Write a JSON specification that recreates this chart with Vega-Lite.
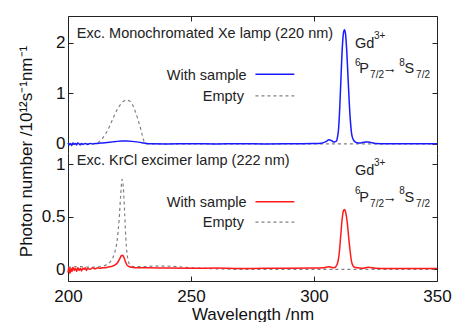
{
  "$schema": "https://vega.github.io/schema/vega-lite/v6.json",
  "padding": {"left": 16, "top": 15, "right": 20, "bottom": 0},
  "spacing": 0,
  "bounds": "flush",
  "config": {
    "view": {"stroke": null},
    "font": "Liberation Sans",
    "axis": {
      "grid": false,
      "domainColor": "#222",
      "tickColor": "#222",
      "domainWidth": 1,
      "tickWidth": 1,
      "tickSize": -5,
      "labelFlush": false,
      "labelFontSize": 17,
      "labelColor": "#111",
      "labelFont": "Liberation Sans",
      "titleFont": "Liberation Sans",
      "titleFontSize": 17,
      "titleFontWeight": "normal",
      "titleColor": "#111"
    },
    "text": {"font": "Liberation Sans", "color": "#222"}
  },
  "datasets": {
    "top": [
      {"wl": 200, "v": 0.02, "s": "Sample"}, {"wl": 200.5, "v": -0.02, "s": "Sample"}, {"wl": 201, "v": 0.01, "s": "Sample"}, {"wl": 201.5, "v": -0.03, "s": "Sample"},
      {"wl": 202, "v": 0.02, "s": "Sample"}, {"wl": 202.5, "v": -0.01, "s": "Sample"}, {"wl": 203, "v": 0.01, "s": "Sample"}, {"wl": 203.5, "v": -0.02, "s": "Sample"},
      {"wl": 204, "v": 0.02, "s": "Sample"}, {"wl": 204.5, "v": 0.0, "s": "Sample"}, {"wl": 205, "v": -0.02, "s": "Sample"}, {"wl": 205.5, "v": 0.01, "s": "Sample"},
      {"wl": 206, "v": -0.01, "s": "Sample"}, {"wl": 207, "v": 0.01, "s": "Sample"}, {"wl": 208, "v": -0.01, "s": "Sample"}, {"wl": 209, "v": 0.01, "s": "Sample"},
      {"wl": 210, "v": 0.0, "s": "Sample"}, {"wl": 211, "v": 0.01, "s": "Sample"}, {"wl": 212, "v": 0.01, "s": "Sample"}, {"wl": 214, "v": 0.02, "s": "Sample"},
      {"wl": 216, "v": 0.03, "s": "Sample"}, {"wl": 218, "v": 0.04, "s": "Sample"}, {"wl": 220, "v": 0.05, "s": "Sample"}, {"wl": 222, "v": 0.055, "s": "Sample"},
      {"wl": 224, "v": 0.055, "s": "Sample"}, {"wl": 226, "v": 0.05, "s": "Sample"}, {"wl": 228, "v": 0.04, "s": "Sample"}, {"wl": 230, "v": 0.025, "s": "Sample"},
      {"wl": 232, "v": 0.01, "s": "Sample"}, {"wl": 234, "v": 0.003, "s": "Sample"}, {"wl": 240, "v": 0.0, "s": "Sample"}, {"wl": 250, "v": 0.002, "s": "Sample"},
      {"wl": 260, "v": 0.0, "s": "Sample"}, {"wl": 270, "v": 0.002, "s": "Sample"}, {"wl": 280, "v": 0.0, "s": "Sample"}, {"wl": 290, "v": 0.003, "s": "Sample"},
      {"wl": 300, "v": 0.008, "s": "Sample"}, {"wl": 303, "v": 0.015, "s": "Sample"}, {"wl": 305, "v": 0.05, "s": "Sample"}, {"wl": 306, "v": 0.08, "s": "Sample"},
      {"wl": 307, "v": 0.07, "s": "Sample"}, {"wl": 308, "v": 0.04, "s": "Sample"}, {"wl": 309, "v": 0.05, "s": "Sample"}, {"wl": 309.5, "v": 0.12, "s": "Sample"},
      {"wl": 310, "v": 0.3, "s": "Sample"}, {"wl": 310.5, "v": 0.75, "s": "Sample"}, {"wl": 311, "v": 1.35, "s": "Sample"}, {"wl": 311.5, "v": 1.9, "s": "Sample"},
      {"wl": 312, "v": 2.2, "s": "Sample"}, {"wl": 312.4, "v": 2.26, "s": "Sample"}, {"wl": 312.8, "v": 2.18, "s": "Sample"}, {"wl": 313.3, "v": 1.85, "s": "Sample"},
      {"wl": 313.8, "v": 1.35, "s": "Sample"}, {"wl": 314.3, "v": 0.85, "s": "Sample"}, {"wl": 314.8, "v": 0.45, "s": "Sample"}, {"wl": 315.3, "v": 0.2, "s": "Sample"},
      {"wl": 316, "v": 0.08, "s": "Sample"}, {"wl": 317, "v": 0.03, "s": "Sample"}, {"wl": 318, "v": 0.02, "s": "Sample"}, {"wl": 319, "v": 0.02, "s": "Sample"},
      {"wl": 320, "v": 0.03, "s": "Sample"}, {"wl": 321, "v": 0.04, "s": "Sample"}, {"wl": 322, "v": 0.04, "s": "Sample"}, {"wl": 323, "v": 0.03, "s": "Sample"},
      {"wl": 325, "v": 0.01, "s": "Sample"}, {"wl": 330, "v": 0.005, "s": "Sample"}, {"wl": 340, "v": 0.003, "s": "Sample"}, {"wl": 350, "v": 0.003, "s": "Sample"},
      {"wl": 200, "v": 0.0, "s": "Empty"}, {"wl": 211, "v": 0.0, "s": "Empty"}, {"wl": 212, "v": 0.02, "s": "Empty"}, {"wl": 213, "v": 0.06, "s": "Empty"},
      {"wl": 214, "v": 0.11, "s": "Empty"}, {"wl": 215, "v": 0.18, "s": "Empty"}, {"wl": 216, "v": 0.26, "s": "Empty"}, {"wl": 217, "v": 0.36, "s": "Empty"},
      {"wl": 218, "v": 0.47, "s": "Empty"}, {"wl": 219, "v": 0.58, "s": "Empty"}, {"wl": 220.5, "v": 0.72, "s": "Empty"}, {"wl": 221.5, "v": 0.79, "s": "Empty"},
      {"wl": 222.5, "v": 0.84, "s": "Empty"}, {"wl": 223.8, "v": 0.865, "s": "Empty"}, {"wl": 224.8, "v": 0.855, "s": "Empty"}, {"wl": 225.6, "v": 0.82, "s": "Empty"},
      {"wl": 226.4, "v": 0.76, "s": "Empty"}, {"wl": 227.2, "v": 0.66, "s": "Empty"}, {"wl": 228.2, "v": 0.52, "s": "Empty"}, {"wl": 229.2, "v": 0.36, "s": "Empty"},
      {"wl": 230.2, "v": 0.17, "s": "Empty"}, {"wl": 231.2, "v": 0.02, "s": "Empty"}, {"wl": 232, "v": 0.0, "s": "Empty"}, {"wl": 350, "v": 0.0, "s": "Empty"}
    ],
    "bot": [
      {"wl": 200, "v": -0.03, "s": "Sample"}, {"wl": 200.4, "v": 0.02, "s": "Sample"}, {"wl": 200.8, "v": -0.04, "s": "Sample"}, {"wl": 201.2, "v": 0.01, "s": "Sample"},
      {"wl": 201.6, "v": -0.02, "s": "Sample"}, {"wl": 202, "v": 0.02, "s": "Sample"}, {"wl": 202.5, "v": -0.01, "s": "Sample"}, {"wl": 203, "v": 0.01, "s": "Sample"},
      {"wl": 203.5, "v": -0.02, "s": "Sample"}, {"wl": 204, "v": 0.015, "s": "Sample"}, {"wl": 204.5, "v": -0.01, "s": "Sample"}, {"wl": 205, "v": 0.01, "s": "Sample"},
      {"wl": 205.5, "v": -0.015, "s": "Sample"}, {"wl": 206, "v": 0.01, "s": "Sample"}, {"wl": 206.5, "v": 0.0, "s": "Sample"}, {"wl": 207, "v": 0.015, "s": "Sample"},
      {"wl": 207.5, "v": -0.01, "s": "Sample"}, {"wl": 208, "v": 0.01, "s": "Sample"}, {"wl": 209, "v": 0.0, "s": "Sample"}, {"wl": 210, "v": 0.015, "s": "Sample"},
      {"wl": 211, "v": 0.005, "s": "Sample"}, {"wl": 212, "v": 0.015, "s": "Sample"}, {"wl": 213, "v": 0.01, "s": "Sample"}, {"wl": 214, "v": 0.015, "s": "Sample"},
      {"wl": 215, "v": 0.015, "s": "Sample"}, {"wl": 216, "v": 0.02, "s": "Sample"}, {"wl": 217, "v": 0.025, "s": "Sample"}, {"wl": 218, "v": 0.03, "s": "Sample"},
      {"wl": 219, "v": 0.04, "s": "Sample"}, {"wl": 220, "v": 0.06, "s": "Sample"}, {"wl": 221, "v": 0.1, "s": "Sample"}, {"wl": 221.7, "v": 0.13, "s": "Sample"},
      {"wl": 222.2, "v": 0.135, "s": "Sample"}, {"wl": 222.8, "v": 0.11, "s": "Sample"}, {"wl": 223.4, "v": 0.07, "s": "Sample"}, {"wl": 224, "v": 0.04, "s": "Sample"},
      {"wl": 225, "v": 0.025, "s": "Sample"}, {"wl": 226, "v": 0.02, "s": "Sample"}, {"wl": 228, "v": 0.015, "s": "Sample"}, {"wl": 232, "v": 0.015, "s": "Sample"},
      {"wl": 240, "v": 0.012, "s": "Sample"}, {"wl": 250, "v": 0.01, "s": "Sample"}, {"wl": 260, "v": 0.012, "s": "Sample"}, {"wl": 270, "v": 0.008, "s": "Sample"},
      {"wl": 280, "v": 0.01, "s": "Sample"}, {"wl": 290, "v": 0.01, "s": "Sample"}, {"wl": 300, "v": 0.012, "s": "Sample"}, {"wl": 304, "v": 0.015, "s": "Sample"},
      {"wl": 306, "v": 0.025, "s": "Sample"}, {"wl": 307, "v": 0.02, "s": "Sample"}, {"wl": 308, "v": 0.015, "s": "Sample"}, {"wl": 309, "v": 0.03, "s": "Sample"},
      {"wl": 309.6, "v": 0.06, "s": "Sample"}, {"wl": 310.2, "v": 0.14, "s": "Sample"}, {"wl": 310.8, "v": 0.3, "s": "Sample"}, {"wl": 311.4, "v": 0.47, "s": "Sample"},
      {"wl": 312, "v": 0.56, "s": "Sample"}, {"wl": 312.4, "v": 0.57, "s": "Sample"}, {"wl": 312.9, "v": 0.54, "s": "Sample"}, {"wl": 313.5, "v": 0.45, "s": "Sample"},
      {"wl": 314, "v": 0.33, "s": "Sample"}, {"wl": 314.6, "v": 0.19, "s": "Sample"}, {"wl": 315.2, "v": 0.08, "s": "Sample"}, {"wl": 315.8, "v": 0.035, "s": "Sample"},
      {"wl": 316.5, "v": 0.02, "s": "Sample"}, {"wl": 318, "v": 0.015, "s": "Sample"}, {"wl": 320, "v": 0.01, "s": "Sample"}, {"wl": 322, "v": 0.02, "s": "Sample"},
      {"wl": 325, "v": 0.01, "s": "Sample"}, {"wl": 330, "v": 0.008, "s": "Sample"}, {"wl": 340, "v": 0.008, "s": "Sample"}, {"wl": 350, "v": 0.008, "s": "Sample"},
      {"wl": 200, "v": 0.02, "s": "Empty"}, {"wl": 205, "v": 0.025, "s": "Empty"}, {"wl": 210, "v": 0.02, "s": "Empty"}, {"wl": 214, "v": 0.03, "s": "Empty"},
      {"wl": 216, "v": 0.05, "s": "Empty"}, {"wl": 218, "v": 0.1, "s": "Empty"}, {"wl": 219, "v": 0.16, "s": "Empty"}, {"wl": 220, "v": 0.28, "s": "Empty"},
      {"wl": 220.8, "v": 0.48, "s": "Empty"}, {"wl": 221.4, "v": 0.7, "s": "Empty"}, {"wl": 222, "v": 0.857, "s": "Empty"}, {"wl": 222.5, "v": 0.78, "s": "Empty"},
      {"wl": 223, "v": 0.55, "s": "Empty"}, {"wl": 223.5, "v": 0.3, "s": "Empty"}, {"wl": 224, "v": 0.15, "s": "Empty"}, {"wl": 224.6, "v": 0.07, "s": "Empty"},
      {"wl": 225.5, "v": 0.035, "s": "Empty"}, {"wl": 227, "v": 0.025, "s": "Empty"}, {"wl": 230, "v": 0.025, "s": "Empty"}, {"wl": 235, "v": 0.03, "s": "Empty"},
      {"wl": 240, "v": 0.03, "s": "Empty"}, {"wl": 245, "v": 0.025, "s": "Empty"}, {"wl": 250, "v": 0.015, "s": "Empty"}, {"wl": 255, "v": 0.01, "s": "Empty"},
      {"wl": 260, "v": 0.005, "s": "Empty"}, {"wl": 270, "v": 0.0, "s": "Empty"}, {"wl": 350, "v": 0.0, "s": "Empty"}
    ],
    "ann": [
      {"p": "top", "k": "main", "x": 203.6, "y": 2.18, "t": "Exc. Monochromated Xe lamp (220 nm)"},
      {"p": "top", "k": "main", "x": 316.7, "y": 1.974, "t": "Gd"},
      {"p": "top", "k": "main", "x": 318.4, "y": 1.479, "t": "P"},
      {"p": "top", "k": "main", "x": 327.8, "y": 1.479, "t": "→"},
      {"p": "top", "k": "main", "x": 336.8, "y": 1.479, "t": "S"},
      {"p": "top", "k": "small", "x": 324.4, "y": 2.14, "t": "3+"},
      {"p": "top", "k": "small", "x": 316.7, "y": 1.61, "t": "6"},
      {"p": "top", "k": "small", "x": 322.8, "y": 1.366, "t": "7/2"},
      {"p": "top", "k": "small", "x": 334.7, "y": 1.61, "t": "8"},
      {"p": "top", "k": "small", "x": 341.5, "y": 1.366, "t": "7/2"},
      {"p": "top", "k": "legend", "x": 272.6, "y": 1.347, "t": "With sample"},
      {"p": "top", "k": "legend", "x": 271.5, "y": 0.93, "t": "Empty"},
      {"p": "bot", "k": "main", "x": 203.6, "y": 1.031, "t": "Exc. KrCl excimer lamp (222 nm)"},
      {"p": "bot", "k": "main", "x": 316.7, "y": 0.936, "t": "Gd"},
      {"p": "bot", "k": "main", "x": 318.4, "y": 0.682, "t": "P"},
      {"p": "bot", "k": "main", "x": 327.8, "y": 0.682, "t": "→"},
      {"p": "bot", "k": "main", "x": 336.8, "y": 0.682, "t": "S"},
      {"p": "bot", "k": "small", "x": 324.4, "y": 1.015, "t": "3+"},
      {"p": "bot", "k": "small", "x": 316.7, "y": 0.75, "t": "6"},
      {"p": "bot", "k": "small", "x": 322.8, "y": 0.627, "t": "7/2"},
      {"p": "bot", "k": "small", "x": 334.7, "y": 0.75, "t": "8"},
      {"p": "bot", "k": "small", "x": 341.5, "y": 0.627, "t": "7/2"},
      {"p": "bot", "k": "legend", "x": 272.6, "y": 0.631, "t": "With sample"},
      {"p": "bot", "k": "legend", "x": 271.5, "y": 0.441, "t": "Empty"}
    ],
    "leg": [
      {"p": "top", "s": "Sample", "x": 276.2, "x2": 292.0, "y": 1.38},
      {"p": "top", "s": "Empty", "x": 276.2, "x2": 292.0, "y": 0.95},
      {"p": "bot", "s": "Sample", "x": 276.2, "x2": 292.0, "y": 0.644},
      {"p": "bot", "s": "Empty", "x": 276.2, "x2": 292.0, "y": 0.45}
    ]
  },
  "vconcat": [
    {
      "width": 369,
      "height": 137,
      "layer": [
        {
          "data": {"name": "top"},
          "transform": [{"filter": "datum.s === 'Empty'"}],
          "mark": {"type": "line", "color": "#808080", "strokeDash": [3, 3], "strokeWidth": 1.2, "interpolate": "monotone"},
          "encoding": {
            "x": {"field": "wl", "type": "quantitative", "scale": {"domain": [200, 350], "nice": false}, "axis": {"orient": "top", "labels": false, "values": [200, 250, 300, 350], "title": null}},
            "y": {"field": "v", "type": "quantitative", "scale": {"domain": [-0.18, 2.53], "nice": false, "zero": false}, "axis": {"orient": "left", "values": [0, 1, 2], "format": "~g", "labelPadding": 8, "title": "Photon number /10¹²s⁻¹nm⁻¹", "titleX": -33, "titleY": 135}}
          }
        },
        {
          "data": {"name": "top"},
          "transform": [{"filter": "datum.s === 'Sample'"}],
          "mark": {"type": "line", "color": "#1a1aff", "strokeWidth": 1.5, "interpolate": "monotone"},
          "encoding": {
            "x": {"field": "wl", "type": "quantitative", "scale": {"domain": [200, 350], "nice": false}, "axis": null},
            "y": {"field": "v", "type": "quantitative", "scale": {"domain": [-0.18, 2.53], "nice": false, "zero": false}, "axis": {"orient": "right", "labels": false, "values": [0, 1, 2], "title": null}}
          }
        },
        {
          "data": {"name": "leg"},
          "transform": [{"filter": "datum.p === 'top' && datum.s === 'Sample'"}],
          "mark": {"type": "rule", "color": "#1a1aff", "strokeWidth": 1.5},
          "encoding": {
            "x": {"field": "x", "type": "quantitative", "scale": {"domain": [200, 350], "nice": false}, "axis": null},
            "x2": {"field": "x2"},
            "y": {"field": "y", "type": "quantitative", "scale": {"domain": [-0.18, 2.53], "nice": false, "zero": false}, "axis": null}
          }
        },
        {
          "data": {"name": "leg"},
          "transform": [{"filter": "datum.p === 'top' && datum.s === 'Empty'"}],
          "mark": {"type": "rule", "color": "#808080", "strokeWidth": 1.2, "strokeDash": [3, 3]},
          "encoding": {
            "x": {"field": "x", "type": "quantitative", "scale": {"domain": [200, 350], "nice": false}, "axis": null},
            "x2": {"field": "x2"},
            "y": {"field": "y", "type": "quantitative", "scale": {"domain": [-0.18, 2.53], "nice": false, "zero": false}, "axis": null}
          }
        },
        {
          "data": {"name": "ann"},
          "transform": [{"filter": "datum.p === 'top' && datum.k === 'main'"}],
          "mark": {"type": "text", "align": "left", "baseline": "middle", "fontSize": 14.5},
          "encoding": {
            "x": {"field": "x", "type": "quantitative", "scale": {"domain": [200, 350], "nice": false}, "axis": null},
            "y": {"field": "y", "type": "quantitative", "scale": {"domain": [-0.18, 2.53], "nice": false, "zero": false}, "axis": null},
            "text": {"field": "t"}
          }
        },
        {
          "data": {"name": "ann"},
          "transform": [{"filter": "datum.p === 'top' && datum.k === 'small'"}],
          "mark": {"type": "text", "align": "left", "baseline": "middle", "fontSize": 10},
          "encoding": {
            "x": {"field": "x", "type": "quantitative", "scale": {"domain": [200, 350], "nice": false}, "axis": null},
            "y": {"field": "y", "type": "quantitative", "scale": {"domain": [-0.18, 2.53], "nice": false, "zero": false}, "axis": null},
            "text": {"field": "t"}
          }
        },
        {
          "data": {"name": "ann"},
          "transform": [{"filter": "datum.p === 'top' && datum.k === 'legend'"}],
          "mark": {"type": "text", "align": "right", "baseline": "middle", "fontSize": 14.5},
          "encoding": {
            "x": {"field": "x", "type": "quantitative", "scale": {"domain": [200, 350], "nice": false}, "axis": null},
            "y": {"field": "y", "type": "quantitative", "scale": {"domain": [-0.18, 2.53], "nice": false, "zero": false}, "axis": null},
            "text": {"field": "t"}
          }
        }
      ],
      "resolve": {"axis": {"x": "independent", "y": "independent"}}
    },
    {
      "width": 369,
      "height": 128,
      "layer": [
        {
          "data": {"name": "bot"},
          "transform": [{"filter": "datum.s === 'Empty'"}],
          "mark": {"type": "line", "color": "#808080", "strokeDash": [3, 3], "strokeWidth": 1.2, "interpolate": "monotone"},
          "encoding": {
            "x": {"field": "wl", "type": "quantitative", "scale": {"domain": [200, 350], "nice": false}, "axis": {"orient": "bottom", "values": [200, 250, 300, 350], "labelPadding": 12, "title": "Wavelength /nm", "titleY": 25, "titleBaseline": "top"}},
            "y": {"field": "v", "type": "quantitative", "scale": {"domain": [-0.111, 1.108], "nice": false, "zero": false}, "axis": {"orient": "left", "values": [0, 0.5, 1], "format": "~g", "labelPadding": 8, "title": null}}
          }
        },
        {
          "data": {"name": "bot"},
          "transform": [{"filter": "datum.s === 'Sample'"}],
          "mark": {"type": "line", "color": "#ff1a1a", "strokeWidth": 1.5, "interpolate": "monotone"},
          "encoding": {
            "x": {"field": "wl", "type": "quantitative", "scale": {"domain": [200, 350], "nice": false}, "axis": null},
            "y": {"field": "v", "type": "quantitative", "scale": {"domain": [-0.111, 1.108], "nice": false, "zero": false}, "axis": {"orient": "right", "labels": false, "values": [0, 0.5, 1], "title": null}}
          }
        },
        {
          "data": {"name": "leg"},
          "transform": [{"filter": "datum.p === 'bot' && datum.s === 'Sample'"}],
          "mark": {"type": "rule", "color": "#ff1a1a", "strokeWidth": 1.5},
          "encoding": {
            "x": {"field": "x", "type": "quantitative", "scale": {"domain": [200, 350], "nice": false}, "axis": null},
            "x2": {"field": "x2"},
            "y": {"field": "y", "type": "quantitative", "scale": {"domain": [-0.111, 1.108], "nice": false, "zero": false}, "axis": null}
          }
        },
        {
          "data": {"name": "leg"},
          "transform": [{"filter": "datum.p === 'bot' && datum.s === 'Empty'"}],
          "mark": {"type": "rule", "color": "#808080", "strokeWidth": 1.2, "strokeDash": [3, 3]},
          "encoding": {
            "x": {"field": "x", "type": "quantitative", "scale": {"domain": [200, 350], "nice": false}, "axis": null},
            "x2": {"field": "x2"},
            "y": {"field": "y", "type": "quantitative", "scale": {"domain": [-0.111, 1.108], "nice": false, "zero": false}, "axis": null}
          }
        },
        {
          "data": {"name": "ann"},
          "transform": [{"filter": "datum.p === 'bot' && datum.k === 'main'"}],
          "mark": {"type": "text", "align": "left", "baseline": "middle", "fontSize": 14.5},
          "encoding": {
            "x": {"field": "x", "type": "quantitative", "scale": {"domain": [200, 350], "nice": false}, "axis": null},
            "y": {"field": "y", "type": "quantitative", "scale": {"domain": [-0.111, 1.108], "nice": false, "zero": false}, "axis": null},
            "text": {"field": "t"}
          }
        },
        {
          "data": {"name": "ann"},
          "transform": [{"filter": "datum.p === 'bot' && datum.k === 'small'"}],
          "mark": {"type": "text", "align": "left", "baseline": "middle", "fontSize": 10},
          "encoding": {
            "x": {"field": "x", "type": "quantitative", "scale": {"domain": [200, 350], "nice": false}, "axis": null},
            "y": {"field": "y", "type": "quantitative", "scale": {"domain": [-0.111, 1.108], "nice": false, "zero": false}, "axis": null},
            "text": {"field": "t"}
          }
        },
        {
          "data": {"name": "ann"},
          "transform": [{"filter": "datum.p === 'bot' && datum.k === 'legend'"}],
          "mark": {"type": "text", "align": "right", "baseline": "middle", "fontSize": 14.5},
          "encoding": {
            "x": {"field": "x", "type": "quantitative", "scale": {"domain": [200, 350], "nice": false}, "axis": null},
            "y": {"field": "y", "type": "quantitative", "scale": {"domain": [-0.111, 1.108], "nice": false, "zero": false}, "axis": null},
            "text": {"field": "t"}
          }
        }
      ],
      "resolve": {"axis": {"x": "independent", "y": "independent"}}
    }
  ]
}
